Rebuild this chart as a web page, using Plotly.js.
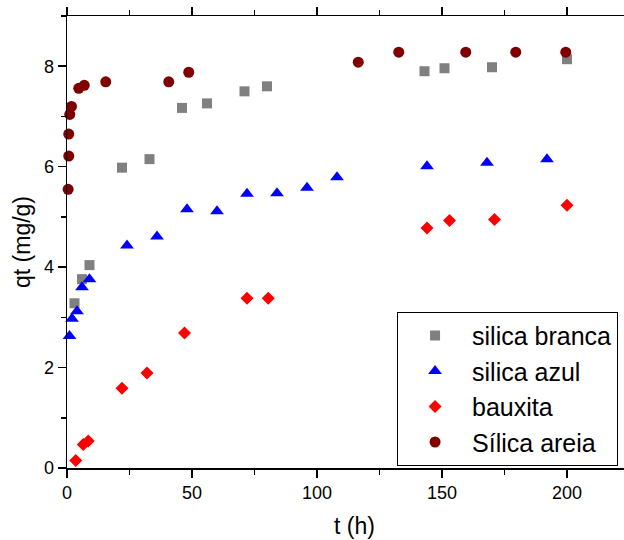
<!DOCTYPE html>
<html>
<head>
<meta charset="utf-8">
<script src="https://cdn.plot.ly/plotly-3.0.1.min.js"></script>
<style>
html, body { margin: 0; padding: 0; overflow: hidden; background: #fff; }
#chart { width: 652px; height: 540px; }
</style>
</head>
<body>
<div id="chart"></div>
<script>
const seriesNames = ["silica branca", "silica azul", "bauxita", "Sílica areia"];

const brancaT = [3, 6, 9, 22, 33, 46, 56, 71, 80, 143, 151, 170, 200];
const brancaQ = [3.28, 3.76, 4.04, 5.98, 6.15, 7.17, 7.26, 7.50, 7.60, 7.90, 7.96, 7.98, 8.14];

const azulT = [1, 2, 4, 6, 9, 24, 36, 48, 60, 72, 84, 96, 108, 144, 168, 192];
const azulQ = [2.63, 2.97, 3.12, 3.60, 3.76, 4.43, 4.61, 5.15, 5.11, 5.46, 5.47, 5.58, 5.79, 6.01, 6.08, 6.15];

const bauxitaT = [3.5, 6.5, 8.5, 22, 32, 47, 72, 80.5, 144, 153, 171, 200];
const bauxitaQ = [0.15, 0.47, 0.54, 1.59, 1.89, 2.69, 3.38, 3.38, 4.78, 4.93, 4.95, 5.23];

const areiaT = [0.45, 0.7, 0.7, 1.1, 1.8, 4.7, 6.9, 15.5, 40.7, 48.7, 116.5, 132.7, 159.5, 179.5, 199.5];
const areiaQ = [5.55, 6.21, 6.65, 7.04, 7.20, 7.56, 7.62, 7.69, 7.69, 7.88, 8.08, 8.28, 8.28, 8.28, 8.28];

const xTickVals = [0, 50, 100, 150, 200];
const yTickVals = [0, 2, 4, 6, 8];

const traces = [
  { x: brancaT, y: brancaQ, name: seriesNames[0], mode: "markers", type: "scatter",
    marker: { symbol: "square", size: 10, color: "#808080" }, cliponaxis: false },
  { x: azulT, y: azulQ, name: seriesNames[1], mode: "markers", type: "scatter",
    marker: { symbol: "triangle-up", size: 12, color: "#0000FF" }, cliponaxis: false },
  { x: bauxitaT, y: bauxitaQ, name: seriesNames[2], mode: "markers", type: "scatter",
    marker: { symbol: "diamond", size: 10, color: "#FF0000" }, cliponaxis: false },
  { x: areiaT, y: areiaQ, name: seriesNames[3], mode: "markers", type: "scatter",
    marker: { symbol: "circle", size: 11, color: "#800000" }, cliponaxis: false }
];

const axisFont = { family: "Liberation Sans, Arial, sans-serif", size: 18, color: "#000" };

const layout = {
  width: 652, height: 540,
  margin: { l: 67, r: 10, t: 16, b: 72.4 },
  paper_bgcolor: "#fff", plot_bgcolor: "#fff",
  font: { family: "Liberation Sans, Arial, sans-serif", color: "#000" },
  showlegend: true,
  xaxis: {
    range: [0, 230], showgrid: false, zeroline: false,
    showline: true, linecolor: "#000", linewidth: 1.5, mirror: "ticks",
    ticks: "outside", ticklen: 8, tickwidth: 1.5, tickcolor: "#000",
    tickvals: xTickVals, ticktext: xTickVals.map(String),
    minor: { dtick: 25, tick0: 0, ticks: "outside", ticklen: 5, tickwidth: 1.5, tickcolor: "#000", showgrid: false },
    tickfont: axisFont,
    title: { text: "t (h)", font: { family: "Liberation Sans, Arial, sans-serif", size: 23, color: "#000" }, standoff: 16 }
  },
  yaxis: {
    range: [0, 9], showgrid: false, zeroline: false,
    showline: true, linecolor: "#000", linewidth: 1.5, mirror: "ticks",
    ticks: "outside", ticklen: 8, tickwidth: 1.5, tickcolor: "#000",
    tickvals: yTickVals, ticktext: yTickVals.map(String),
    minor: { dtick: 1, tick0: 0, ticks: "outside", ticklen: 5, tickwidth: 1.5, tickcolor: "#000", showgrid: false },
    tickfont: axisFont,
    title: { text: "qt (mg/g)", font: { family: "Liberation Sans, Arial, sans-serif", size: 23, color: "#000" }, standoff: 7 }
  },
  legend: {
    x: 0.574, y: 0.005, xanchor: "left", yanchor: "bottom",
    bgcolor: "#fff", bordercolor: "#000", borderwidth: 1,
    font: { family: "Liberation Sans, Arial, sans-serif", size: 25, color: "#000" },
    itemwidth: 64, tracegroupgap: 0
  }
};

Plotly.newPlot("chart", traces, layout, { displayModeBar: false, staticPlot: true });
</script>
</body>
</html>
